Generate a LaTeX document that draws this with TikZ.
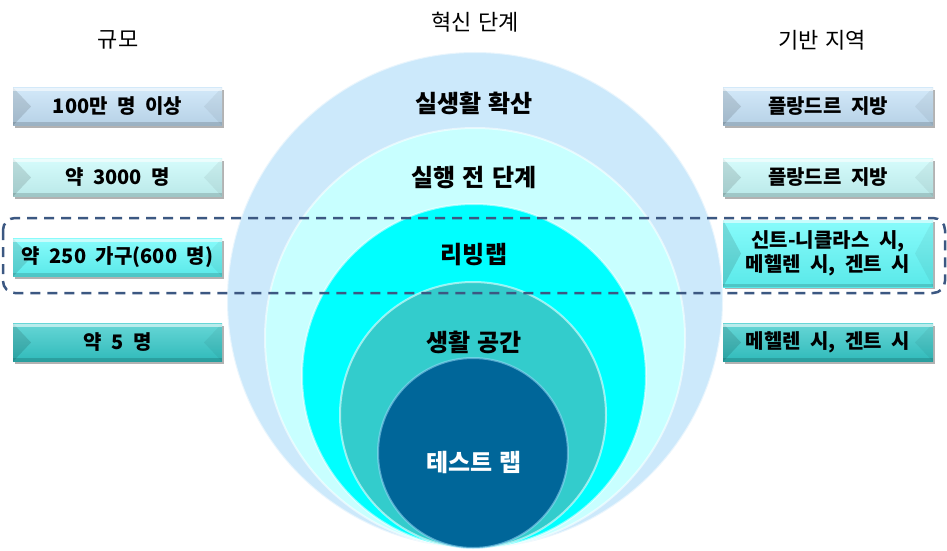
\documentclass[tikz,border=0pt]{standalone}
\usepackage{fontspec}
\newfontfamily\krfont{Noto Sans CJK KR}
\newcommand\myringfont{\krfont\bfseries\fontsize{24}{28}\selectfont\spaceskip=7pt\relax}
\newcommand\myheadfont{\krfont\fontsize{22}{26}\selectfont\spaceskip=7pt\relax}
\newcommand\myboxfont{\krfont\bfseries\fontsize{20}{24}\selectfont\spaceskip=9.5pt\relax}
\usetikzlibrary{shadows}
\definecolor{ringA}{RGB}{204,233,251}
\definecolor{ringB}{RGB}{200,255,255}
\definecolor{ringC}{RGB}{0,255,255}
\definecolor{ringD}{RGB}{51,204,204}
\definecolor{ringE}{RGB}{0,102,153}
\definecolor{boxA}{RGB}{196,225,247}
\definecolor{boxB}{RGB}{200,250,250}
\definecolor{boxC}{RGB}{96,250,250}
\definecolor{boxD}{RGB}{51,200,200}
\definecolor{dashc}{RGB}{60,88,130}
\tikzset{
  ring/.style={circle,inner sep=0pt,draw=white,draw opacity=0.55,line width=2pt},
  ringlabel/.style={font=\myringfont,inner sep=0pt},
  header/.style={font=\myheadfont,inner sep=0pt},
  bevbox/.style={rectangle,inner sep=0pt,minimum width=209pt,minimum height=38pt,
    top color=#1!75!white,bottom color=#1!93!black,
    align=center,font=\myboxfont,
    drop shadow={shadow xshift=1.5pt,shadow yshift=-2pt,opacity=0.3,fill=black},
    path picture={
      \fill[black,opacity=.12] (path picture bounding box.north west) -- (path picture bounding box.south west) -- ([xshift=18pt]path picture bounding box.west) -- cycle;
      \fill[black,opacity=.05] (path picture bounding box.north east) -- (path picture bounding box.south east) -- ([xshift=-18pt]path picture bounding box.east) -- cycle;
      \fill[white,opacity=.55] (path picture bounding box.north west) rectangle ([yshift=-3pt]path picture bounding box.north east);
      \fill[black,opacity=.15] (path picture bounding box.south west) rectangle ([yshift=3.5pt]path picture bounding box.south east);
    }},
  groupbox/.style={draw=dashc,line width=2.5pt,dash pattern=on 10pt off 7pt,rounded corners=12pt}
}
\begin{document}
\begin{tikzpicture}[x=1pt,y=-1pt]
\useasboundingbox (0,0) rectangle (947,551);
% circles
\node[ring,fill=ringA,minimum size=496pt] (cA) at (475,300) {};
\node[ring,fill=ringB,minimum size=420pt] (cB) at (475,338) {};
\node[ring,fill=ringC,minimum size=344pt] (cC) at (474,376) {};
\node[ring,fill=ringD,minimum size=266pt] (cD) at (473,415) {};
\node[ring,fill=ringE,draw=cyan!40,minimum size=190pt] (cE) at (473,453) {};
% circle labels
\node[ringlabel] (tA) at (474,103) {실생활 확산};
\node[ringlabel] (tB) at (474,178) {실행 전 단계};
\node[ringlabel] (tC) at (474,255) {리빙랩};
\node[ringlabel] (tD) at (474,342) {생활 공간};
\node[ringlabel,text=white] (tE) at (474,462) {테스트 랩};
% headers
\node[header] (h1) at (118,40) {규모};
\node[header] (h2) at (475,22) {혁신 단계};
\node[header] (h3) at (822,40) {기반 지역};
% dashed group
\draw[groupbox] (3,218) rectangle (945,293);
% left boxes
\node[bevbox=boxA] (l1) at (117.5,106.5) {100만 명 이상};
\node[bevbox=boxB] (l2) at (117.5,177.5) {약 3000 명};
\node[bevbox=boxC] (l3) at (117.5,257.5) {약 250 가구(600 명)};
\node[bevbox=boxD] (l4) at (117.5,342.5) {약 5 명};
% right boxes
\node[bevbox=boxA,minimum width=210pt] (r1) at (828,106.5) {플랑드르 지방};
\node[bevbox=boxB,minimum width=210pt] (r2) at (828,177.5) {플랑드르 지방};
\node[bevbox=boxC,minimum width=210pt,minimum height=67pt] (r3) at (828,253.5) {신트-니클라스 시,\\메헬렌 시, 겐트 시};
\node[bevbox=boxD,minimum width=210pt] (r4) at (828,342.5) {메헬렌 시, 겐트 시};
\end{tikzpicture}
\end{document}
